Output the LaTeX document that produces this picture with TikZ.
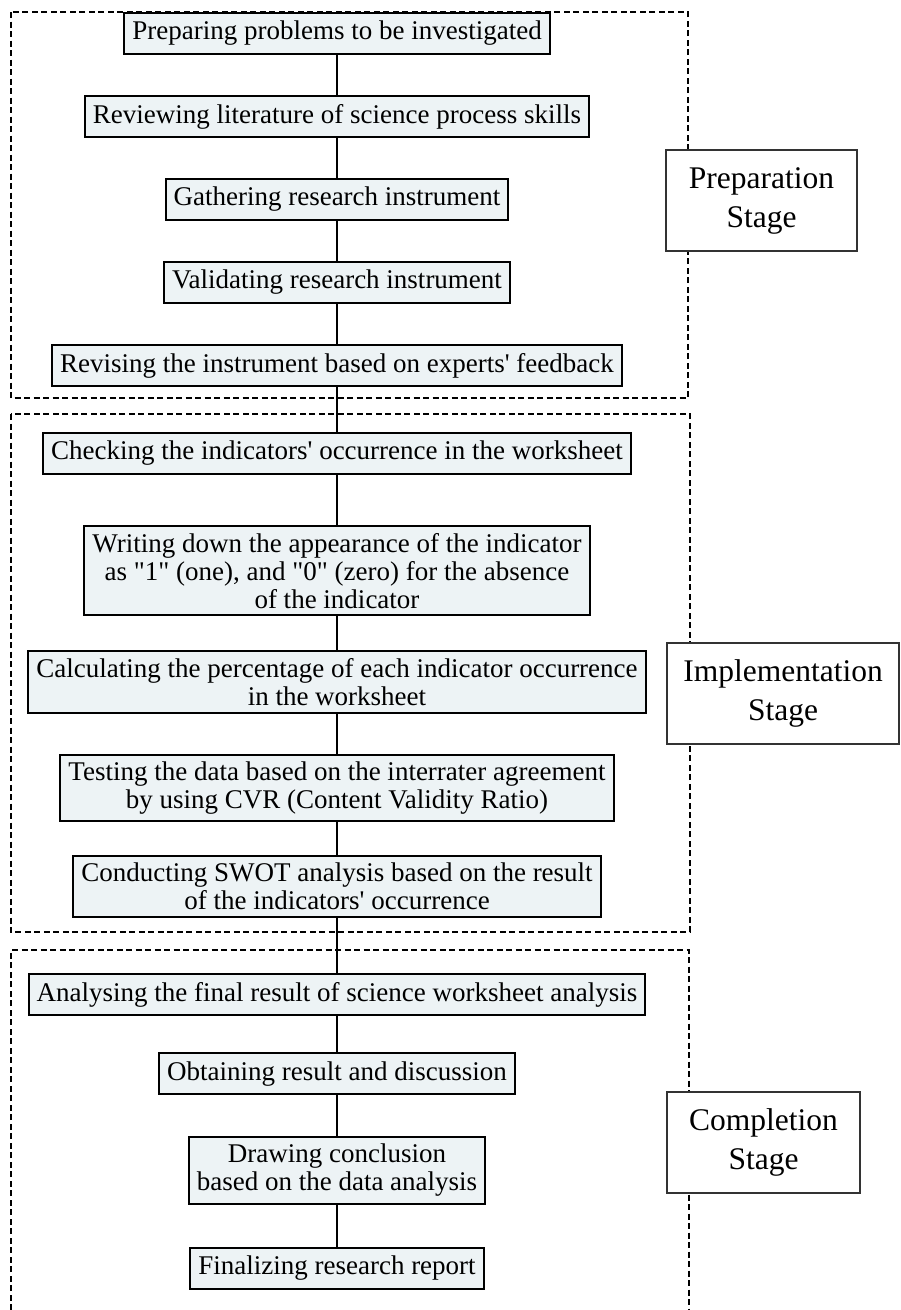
\documentclass[tikz,border=0pt]{standalone}
\usepackage{fontspec}
\setmainfont{Liberation Serif}
\usetikzlibrary{positioning,backgrounds,calc}
\definecolor{stepfill}{HTML}{EDF3F5}
\definecolor{labelline}{HTML}{333333}
\newcommand{\apos}{\textquotesingle}
\newcommand{\dq}{\textquotedbl}
\tikzset{
  stepbox/.style={draw=black, line width=2pt, fill=stepfill, align=center,
    inner xsep=8pt, inner ysep=7pt, minimum height=41pt,
    font=\fontsize{27pt}{28pt}\selectfont},
  stagelabel/.style={draw=labelline, line width=1.3pt, fill=white, align=center,
    minimum height=101pt, font=\fontsize{31.5pt}{39pt}\selectfont},
  stageframe/.style={line width=2pt, dash pattern=on 6pt off 3.5pt},
  link/.style={line width=2pt}
}
\begin{document}
\begin{tikzpicture}[x=1pt, y=1pt, node distance=40pt]
  \useasboundingbox (0,0) rectangle (901,-1310);
  % preparation stage
  \node[stepbox] (prep1) at (337,-33.5) {Preparing problems to be investigated};
  \node[stepbox, below=of prep1] (prep2) {Reviewing literature of science process skills};
  \node[stepbox, below=of prep2] (prep3) {Gathering research instrument};
  \node[stepbox, below=of prep3] (prep4) {Validating research instrument};
  \node[stepbox, below=of prep4] (prep5) {Revising the instrument based on experts\apos{} feedback};
  % implementation stage
  \node[stepbox, below=45pt of prep5] (impl1) {Checking the indicators\apos{} occurrence in the worksheet};
  \node[stepbox, below=50pt of impl1] (impl2) {Writing down the appearance of the indicator\\
    as \dq1\dq{} (one), and \dq0\dq{} (zero) for the absence\\of the indicator};
  \node[stepbox, below=34pt of impl2] (impl3) {Calculating the percentage of each indicator occurrence\\in the worksheet};
  \node[stepbox, below=40pt of impl3] (impl4) {Testing the data based on the interrater agreement\\by using CVR (Content Validity Ratio)};
  \node[stepbox, below=33pt of impl4] (impl5) {Conducting SWOT analysis based on the result\\of the indicators\apos{} occurrence};
  % completion stage
  \node[stepbox, below=55pt of impl5] (comp1) {Analysing the final result of science worksheet analysis};
  \node[stepbox, below=36pt of comp1] (comp2) {Obtaining result and discussion};
  \node[stepbox, below=41pt of comp2] (comp3) {Drawing conclusion\\based on the data analysis};
  \node[stepbox, below=42pt of comp3] (comp4) {Finalizing research report};

  \foreach \a/\b in {prep1/prep2, prep2/prep3, prep3/prep4, prep4/prep5, prep5/impl1,
      impl1/impl2, impl2/impl3, impl3/impl4, impl4/impl5, impl5/comp1,
      comp1/comp2, comp2/comp3, comp3/comp4}
    \draw[link] (\a) -- (\b);

  % dashed stage frames
  \coordinate (prepbottom) at ($(prep5.south)+(0,-11)$);
  \coordinate (impltop) at ($(prep5.south)+(0,-27)$);
  \coordinate (implbottom) at ($(impl5.south)+(0,-14)$);
  \coordinate (comptop) at ($(impl5.south)+(0,-32)$);
  \begin{scope}[on background layer]
    \draw[stageframe] (11,-12) rectangle (688,0 |- prepbottom);
    \draw[stageframe] (11,0 |- impltop) rectangle (690,0 |- implbottom);
    \draw[stageframe] (11,-1310) |- (689,0 |- comptop) -- (689,-1310);
  \end{scope}

  \node[stagelabel, minimum width=191pt] (preplabel) at (761.5,-200.5) {Preparation\\Stage};
  \node[stagelabel, minimum width=232pt] (impllabel) at (783,-693.5) {Implementation\\Stage};
  \node[stagelabel, minimum width=193pt] (complabel) at (763.5,-1142.5) {Completion\\Stage};
\end{tikzpicture}
\end{document}
